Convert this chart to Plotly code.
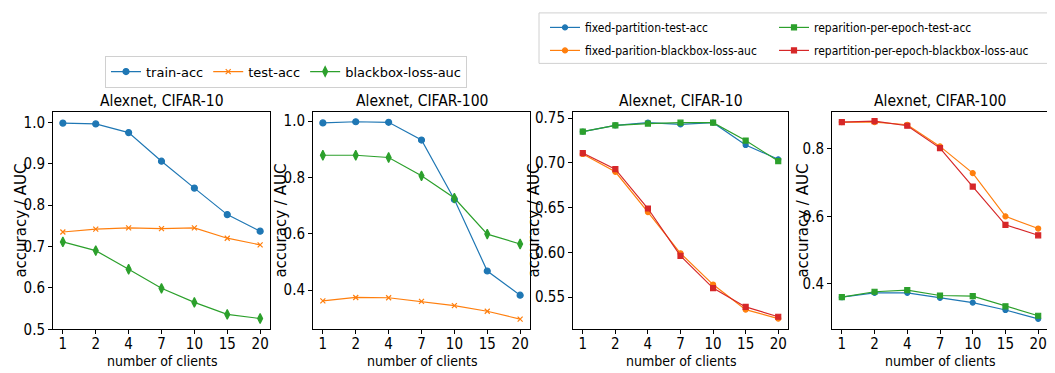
import plotly.graph_objects as go

clients = ["1", "2", "4", "7", "10", "15", "20"]

# Panel 1: Alexnet, CIFAR-10
c10_train_acc = [0.998, 0.996, 0.975, 0.906, 0.841, 0.777, 0.737]
c10_test_acc = [0.735, 0.742, 0.745, 0.743, 0.745, 0.720, 0.704]
c10_blackbox_auc = [0.711, 0.690, 0.645, 0.599, 0.565, 0.536, 0.526]

# Panel 2: Alexnet, CIFAR-100
c100_train_acc = [0.994, 0.998, 0.996, 0.933, 0.722, 0.468, 0.382]
c100_test_acc = [0.362, 0.374, 0.373, 0.360, 0.345, 0.325, 0.297]
c100_blackbox_auc = [0.879, 0.879, 0.871, 0.806, 0.727, 0.599, 0.564]

# Panel 3: Alexnet, CIFAR-10 (partition comparison)
c10_fixed_test = [0.735, 0.742, 0.745, 0.743, 0.745, 0.720, 0.704]
c10_fixed_bb = [0.710, 0.690, 0.645, 0.599, 0.564, 0.536, 0.526]
c10_rep_test = [0.735, 0.742, 0.744, 0.745, 0.745, 0.725, 0.702]
c10_rep_bb = [0.711, 0.693, 0.649, 0.596, 0.560, 0.539, 0.528]

# Panel 4: Alexnet, CIFAR-100 (partition comparison)
c100_fixed_test = [0.361, 0.374, 0.374, 0.359, 0.345, 0.323, 0.297]
c100_fixed_bb = [0.879, 0.879, 0.871, 0.807, 0.728, 0.600, 0.564]
c100_rep_test = [0.361, 0.377, 0.382, 0.366, 0.364, 0.334, 0.306]
c100_rep_bb = [0.879, 0.882, 0.868, 0.802, 0.688, 0.575, 0.544]

titles = ["Alexnet, CIFAR-10", "Alexnet, CIFAR-100", "Alexnet, CIFAR-10", "Alexnet, CIFAR-100"]

BLUE, ORANGE, GREEN, RED = "#1f77b4", "#ff7f0e", "#2ca02c", "#d62728"
COND = "DejaVu Sans Condensed, DejaVu Sans, sans-serif"
SANS = "DejaVu Sans, sans-serif"

W, H = 1055, 373
xdoms = [(45, 262), (305, 522), (565, 780), (824, 1040)]
ytop, ybot = 105, 329
ydom = [1 - ybot / H, 1 - ytop / H]

fig = go.Figure()

def add(series, name, color, symbol, size, idx, legend, show, group=None):
    ax = "" if idx == 1 else str(idx)
    fig.add_trace(go.Scatter(
        x=clients, y=series, name=name, mode="lines+markers",
        line=dict(color=color, width=1.2),
        marker=dict(color=color, symbol=symbol, size=size,
                    line=dict(color=color, width=1.2)),
        xaxis="x" + ax, yaxis="y" + ax, legend=legend, showlegend=show,
        legendgroup=group))

add(c10_train_acc, "train-acc", BLUE, "circle", 6, 1, "legend", True)
add(c10_test_acc, "test-acc", ORANGE, "x-thin", 5, 1, "legend", True)
add(c10_blackbox_auc, "blackbox-loss-auc", GREEN, "diamond-tall", 7, 1, "legend", True)

add(c100_train_acc, "train-acc", BLUE, "circle", 6, 2, "legend", False)
add(c100_test_acc, "test-acc", ORANGE, "x-thin", 5, 2, "legend", False)
add(c100_blackbox_auc, "blackbox-loss-auc", GREEN, "diamond-tall", 7, 2, "legend", False)

add(c10_fixed_test, "fixed-partition-test-acc", BLUE, "circle", 5, 3, "legend2", True, "g1")
add(c10_fixed_bb, "fixed-parition-blackbox-loss-auc", ORANGE, "circle", 5, 3, "legend2", True, "g2")
add(c10_rep_test, "reparition-per-epoch-test-acc", GREEN, "square", 5, 3, "legend3", True, "g3")
add(c10_rep_bb, "repartition-per-epoch-blackbox-loss-auc", RED, "square", 5, 3, "legend3", True, "g4")

add(c100_fixed_test, "fixed-partition-test-acc", BLUE, "circle", 5, 4, "legend2", False, "g1")
add(c100_fixed_bb, "fixed-parition-blackbox-loss-auc", ORANGE, "circle", 5, 4, "legend2", False, "g2")
add(c100_rep_test, "reparition-per-epoch-test-acc", GREEN, "square", 5, 4, "legend3", False, "g3")
add(c100_rep_bb, "repartition-per-epoch-blackbox-loss-auc", RED, "square", 5, 4, "legend3", False, "g4")

yranges = [(0.5, 1.025), (0.261, 1.033), (0.514, 0.757), (0.266, 0.909)]
yticks = [[0.5, 0.6, 0.7, 0.8, 0.9, 1.0], [0.4, 0.6, 0.8, 1.0],
          [0.55, 0.60, 0.65, 0.70, 0.75], [0.4, 0.6, 0.8]]
yfmt = [".1f", ".1f", ".2f", ".1f"]

axis_common = dict(showline=True, mirror=True, linecolor="black", linewidth=1,
                   ticks="outside", ticklen=4, tickwidth=1, tickcolor="black",
                   showgrid=False, zeroline=False,
                   tickfont=dict(family=COND, size=15, color="black"))

layout = {}
annotations = []
for i in range(4):
    ax = "" if i == 0 else str(i + 1)
    x0, x1 = xdoms[i]
    layout["xaxis" + ax] = dict(axis_common, domain=[x0 / W, x1 / W], type="category",
                                range=[-0.3, 6.3], anchor="y" + ax, ticklabelstandoff=-3)
    layout["yaxis" + ax] = dict(axis_common, domain=ydom, range=list(yranges[i]),
                                tickvals=yticks[i], tickformat=yfmt[i], anchor="x" + ax)
    cx = (x0 + x1) / 2 / W
    annotations.append(dict(text=titles[i], x=cx, y=ydom[1], xref="paper", yref="paper",
                            xanchor="center", yanchor="bottom", yshift=0, showarrow=False,
                            font=dict(family=COND, size=15.5, color="black")))
    annotations.append(dict(text="number of clients", x=cx, y=1 - 362 / H, xref="paper",
                            yref="paper", xanchor="center", yanchor="middle", showarrow=False,
                            font=dict(family=COND, size=14, color="black")))

ylab_x = [13, 273, 526, 795]
for xl in ylab_x:
    annotations.append(dict(text="accuracy / AUC", x=xl / W, y=(ydom[0] + ydom[1]) / 2,
                            xref="paper", yref="paper", xanchor="center", yanchor="middle",
                            textangle=-90, showarrow=False,
                            font=dict(family=SANS, size=15, color="black")))

# frame drawn around the two-column legend (it runs past the right edge)
shapes = [dict(type="rect", xref="paper", yref="paper", x0=531 / W, x1=1.01,
               y0=1 - 55 / H, y1=1 - 3 / H, line=dict(color="#d0d0d0", width=1),
               fillcolor="rgba(255,255,255,0)", layer="above")]

fig.update_layout(
    **layout,
    annotations=annotations,
    shapes=shapes,
    width=W, height=H,
    margin=dict(l=0, r=0, t=0, b=0),
    paper_bgcolor="white", plot_bgcolor="white",
    legend=dict(orientation="h", x=97 / W, y=1 - 47 / H, xanchor="left", yanchor="top",
                bordercolor="#d0d0d0", borderwidth=1,
                font=dict(family=SANS, size=13, color="black"), bgcolor="white"),
    legend2=dict(orientation="v", x=537 / W, y=1 - 3 / H, xanchor="left", yanchor="top",
                 borderwidth=0, traceorder="grouped", tracegroupgap=4,
                 font=dict(family=COND, size=12, color="black"), bgcolor="rgba(0,0,0,0)"),
    legend3=dict(orientation="v", x=766 / W, y=1 - 3 / H, xanchor="left", yanchor="top",
                 borderwidth=0, traceorder="grouped", tracegroupgap=4,
                 font=dict(family=COND, size=12, color="black"), bgcolor="rgba(0,0,0,0)"),
)

fig.write_html("out.html")
